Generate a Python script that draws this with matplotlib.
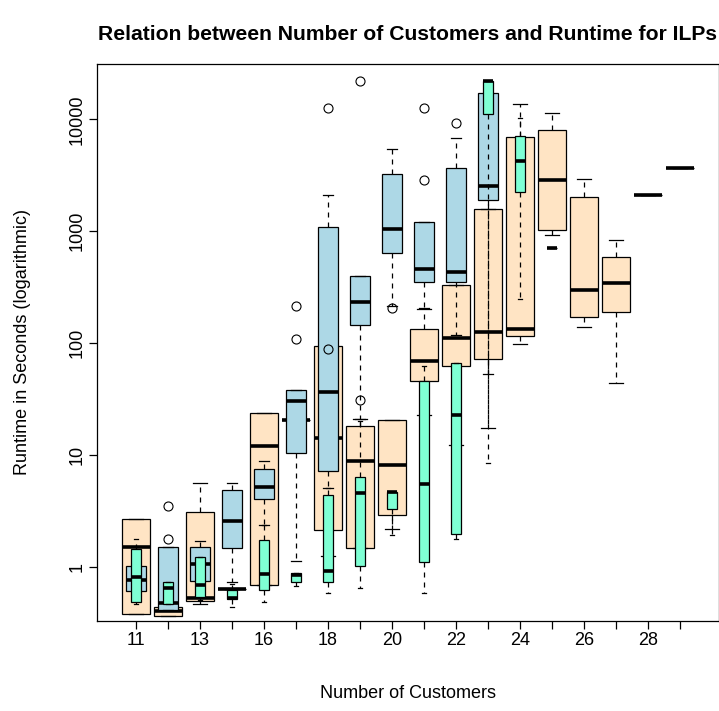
import numpy as np
import matplotlib as mpl
import matplotlib.pyplot as plt
from matplotlib.ticker import NullLocator

mpl.rcParams['font.family'] = ['Liberation Sans', 'DejaVu Sans']

############
### data ###
############
customers = ['11', '12', '13', '15', '16', '17', '18', '19', '20', '21',
             '22', '23', '24', '25', '26', '27', '28', '29']
labelled = ['11', '13', '16', '18', '20', '22', '24', '26', '28']
yticks = [1, 10, 100, 1000, 10000]

# rows: whisker low, q1, median, q3, whisker high (seconds)
ilp_a = [[0.376, 0.376, 1.50, 2.64, 2.64], [0.363, 0.363, 0.402, 0.437, 0.437],
         [0.459, 0.49, 0.526, 3.05, 5.55], [0.625, 0.625, 0.625, 0.625, 0.625],
         [0.683, 0.683, 12.0, 23.5, 23.5], [20.3, 20.3, 20.3, 20.3, 20.3],
         [1.24, 2.12, 14.0, 94.4, 94.4], [1.455, 1.455, 8.78, 18.2, 20.7],
         [2.18, 2.89, 8.09, 20.4, 20.4], [22.5, 45.9, 69.3, 132, 200],
         [12.1, 62.1, 111, 329, 329], [17.5, 72, 126, 1577, 1577],
         [97.8, 115, 133, 6900, 13700], [929, 1023, 2846, 7970, 11380],
         [138, 169, 297, 2018, 2906], [43.5, 190, 341, 583, 832],
         [2104, 2104, 2104, 2104, 2104], [3690, 3690, 3690, 3690, 3690]]
ilp_a_out = [[], [], [], [], [], [], [], [30.8], [], [], [], [], [], [], [], [], [], []]

ilp_b = [[0.60, 0.60, 0.757, 1.01, 1.01], [0.41, 0.41, 0.469, 1.49, 1.49],
         [0.747, 0.747, 1.05, 1.49, 1.68], [0.73, 1.47, 2.57, 4.83, 5.62],
         [2.34, 4.04, 5.11, 7.50, 8.84], [1.13, 10.3, 30.4, 37.9, 37.9],
         [5.0, 7.19, 36.6, 1088, 2104], [20.7, 145, 234, 399, 399],
         [215, 633, 1044, 3222, 5390], [205, 348, 455, 1199, 1199],
         [118, 348, 433, 3645, 6760], [53, 1897, 2547, 17100, 17100]]
ilp_b_out = [[], [1.75, 3.45], [], [], [], [109, 214], [12540], [22100],
             [205], [2864, 12540], [9200], []]

ilp_c = [[0.46, 0.48, 0.80, 1.43, 1.77], [0.459, 0.459, 0.638, 0.72, 0.72],
         [0.5, 0.537, 0.683, 1.21, 1.21], [0.432, 0.509, 0.52, 0.616, 0.70],
         [0.484, 0.616, 0.863, 1.74, 2.34], [0.67, 0.72, 0.845, 0.87, 0.87],
         [0.583, 0.72, 0.905, 4.36, 5.0], [0.638, 1.02, 4.52, 6.28, 20.0],
         [1.90, 3.25, 4.61, 4.61, 4.61], [0.575, 1.10, 5.44, 45.9, 62.1],
         [1.75, 1.97, 22.5, 65.7, 65.7], [8.5, 11150, 22100, 22100, 22100],
         [248, 2224, 4210, 7130, 10200], [711, 711, 711, 711, 711]]
ilp_c_out = [[], [], [], [], [], [], [89], [], [], [], [], [], [], []]


def make_stats(rows, outs):
    st = []
    for r, o in zip(rows, outs):
        st.append(dict(whislo=r[0], q1=r[1], med=r[2], q3=r[3], whishi=r[4], fliers=o))
    return st


W, H = 719, 711
fig = plt.figure(figsize=(W / 100, H / 100), dpi=100)
ax = fig.add_axes([97 / W, (H - 621) / H, 622 / W, (621 - 64) / H])
ax.set_yscale('log')

series = [(ilp_a, ilp_a_out, '#FFE4C4', 0.9, 2),
          (ilp_b, ilp_b_out, '#ADD8E6', 0.6, 3),
          (ilp_c, ilp_c_out, '#7FFFD4', 0.3, 4)]
for rows, outs, col, w, z in series:
    st = make_stats(rows, outs)
    ax.bxp(st, positions=np.arange(1, len(st) + 1), widths=w, capwidths=w * 0.5,
           patch_artist=True, manage_ticks=False, zorder=z,
           boxprops=dict(facecolor=col, edgecolor='black', linewidth=0.9),
           whiskerprops=dict(color='black', linewidth=0.9, linestyle=(0, (4, 4))),
           capprops=dict(color='black', linewidth=0.9),
           medianprops=dict(color='black', linewidth=2.6, solid_capstyle='butt'),
           flierprops=dict(marker='o', markerfacecolor='none', markeredgecolor='black',
                           markersize=6.5, markeredgewidth=0.8))

ax.set_xlim(-0.22, 19.22)
ax.set_ylim(0.3255, 31230)

ax.set_xticks(np.arange(1, len(customers) + 1))
ax.set_xticklabels([c if c in labelled else '' for c in customers])
ax.set_yticks(yticks)
ax.set_yticklabels([str(t) for t in yticks], rotation=90, va='center')
ax.yaxis.set_minor_locator(NullLocator())
ax.tick_params(axis='both', which='major', labelsize=13, length=6, width=0.9)
ax.tick_params(axis='x', pad=2)
ax.tick_params(axis='y', pad=2.5)
for s in ax.spines.values():
    s.set_linewidth(0.9)

fig.text(408 / W, 1 - 34 / H, 'Relation between Number of Customers and Runtime for ILPs',
         ha='center', va='center', fontsize=15.2, fontweight='bold')
fig.text(408 / W, 1 - 693 / H, 'Number of Customers', ha='center', va='center', fontsize=13)
fig.text(23 / W, 1 - 342 / H, 'Runtime in Seconds (logarithmic)', ha='center', va='center',
         rotation=90, fontsize=13)

plt.savefig('out.png', dpi=100)
plt.close()
